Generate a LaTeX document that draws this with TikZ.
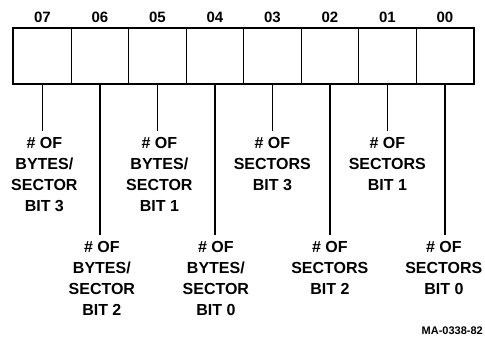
\documentclass[tikz,border=0pt]{standalone}
\usepackage{fontspec}
\setmainfont{Liberation Sans}
\begin{document}
\begin{tikzpicture}[x=1pt,y=1pt,
  cell/.style={draw, line width=1.2pt, minimum width=57.5pt, minimum height=55pt, inner sep=0pt, anchor=north west},
  bitnum/.style={font=\fontsize{15}{15}\selectfont\bfseries, inner sep=0pt, anchor=south},
  lbl/.style={font=\fontsize{16}{21}\selectfont\bfseries, align=center, inner sep=0pt, anchor=north},
  conn/.style={line width=1.3pt}]
\useasboundingbox (0,0) rectangle (485,-341);
\foreach \i/\n in {0/7,1/6,2/5,3/4,4/3,5/2,6/1,7/0}{
  \node[cell] (c\n) at ({13+57.5*\i},-28) {};
  \node[bitnum] (h\n) at ([yshift=5pt]c\n.north) {0\n};
}
\draw[line width=2.4pt] (c7.north west) rectangle (c0.south east);
% labels
\node[lbl] (l7) at ([xshift=2pt]c7.south |- 0,-137) {\# OF\\BYTES/\\SECTOR\\BIT 3};
\node[lbl] (l6) at ([xshift=2pt]c6.south |- 0,-241) {\# OF\\BYTES/\\SECTOR\\BIT 2};
\node[lbl] (l5) at ([xshift=2pt]c5.south |- 0,-137) {\# OF\\BYTES/\\SECTOR\\BIT 1};
\node[lbl] (l4) at ([xshift=1pt]c4.south |- 0,-241) {\# OF\\BYTES/\\SECTOR\\BIT 0};
\node[lbl] (l3) at ([xshift=0pt]c3.south |- 0,-137) {\# OF\\SECTORS\\BIT 3};
\node[lbl] (l2) at ([xshift=0pt]c2.south |- 0,-241) {\# OF\\SECTORS\\BIT 2};
\node[lbl] (l1) at ([xshift=0pt]c1.south |- 0,-137) {\# OF\\SECTORS\\BIT 1};
\node[lbl] (l0) at ([xshift=-1pt]c0.south |- 0,-241) {\# OF\\SECTORS\\BIT 0};
\foreach \n in {7,6,5,4,3,2,1,0}{
  \draw[conn, shorten >=6pt] (c\n.south) -- (c\n.south |- l\n.north);
}
\node[font=\fontsize{11}{11}\selectfont\bfseries, inner sep=0pt, anchor=east] (ma) at (483,-331) {MA-0338-82};
\end{tikzpicture}
\end{document}
